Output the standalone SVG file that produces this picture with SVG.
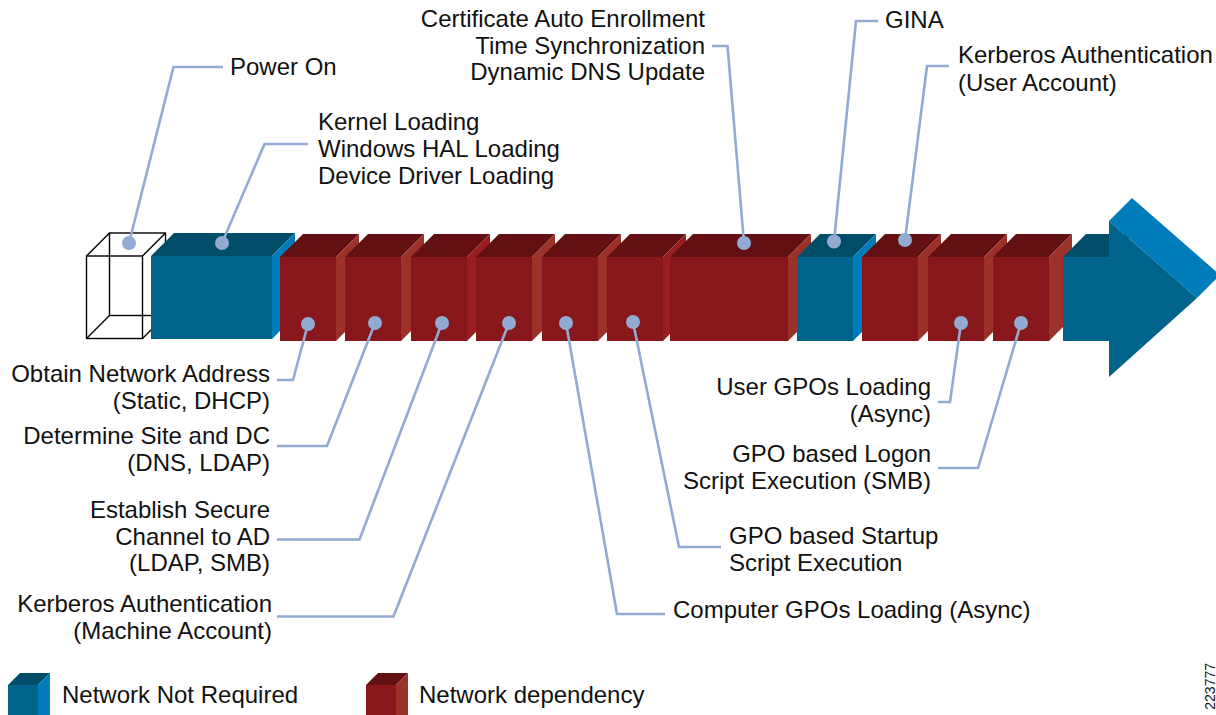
<svg xmlns="http://www.w3.org/2000/svg" width="1216" height="715" viewBox="0 0 1216 715">
  <style>
    text { font-family: "Liberation Sans", Arial, Helvetica, sans-serif; font-size: 24px; fill: #111; }
    .end { text-anchor: end; }
    .bf { fill: #00638b; }
    .bt { fill: #004d6a; }
    .bs { fill: #007cba; }
    .rf { fill: #87171a; }
    .rt { fill: #631013; }
    .rs { fill: #9c3129; }
    .rs2 { fill: #9b1c20; }
    .wire { fill: none; stroke: #000; stroke-width: 1.4; stroke-linejoin: miter; }
    .lead { fill: none; stroke: #93aad3; stroke-width: 2.6; stroke-linejoin: miter; }
    .pin { fill: #93aad3; }
    .fig { font-size: 14px; }
  </style>

  <rect width="1216" height="715" fill="#fff"/>

  <!-- Power-on stage: empty wireframe block -->
  <g id="power-on">
    <rect class="wire" x="109.5" y="233" width="56" height="82.5"/>
    <rect class="wire" x="86.5" y="256" width="56" height="82.5"/>
    <path class="wire" d="M86.5 256 L109.5 233 M142.5 256 L165.5 233 M86.5 338.5 L109.5 315.5 M142.5 338.5 L165.5 315.5"/>
  </g>

  <!-- Kernel / HAL / driver loading -->
  <g id="kernel-loading">
    <polygon class="bt" points="151,256 174,233 295,233 272,256"/>
    <polygon class="bs" points="272,256 295,233 295,316 272,339"/>
    <rect class="bf" x="151" y="256" width="121" height="83"/>
  </g>

  <g id="obtain-address">
    <polygon class="rt" points="280,257 303,234 359,234 336,257"/>
    <polygon class="rs" points="336,257 359,234 359,318 336,341"/>
    <rect class="rf" x="280" y="257" width="56" height="84"/>
  </g>

  <g id="determine-site">
    <polygon class="rt" points="345,257 368,234 424,234 401,257"/>
    <polygon class="rs" points="401,257 424,234 424,318 401,341"/>
    <rect class="rf" x="345" y="257" width="56" height="84"/>
  </g>

  <g id="secure-channel">
    <polygon class="rt" points="411,257 434,234 490,234 467,257"/>
    <polygon class="rs2" points="467,257 490,234 490,318 467,341"/>
    <rect class="rf" x="411" y="257" width="56" height="84"/>
  </g>

  <g id="kerberos-machine">
    <polygon class="rt" points="476,257 499,234 555,234 532,257"/>
    <polygon class="rs" points="532,257 555,234 555,318 532,341"/>
    <rect class="rf" x="476" y="257" width="56" height="84"/>
  </g>

  <g id="computer-gpos">
    <polygon class="rt" points="542,257 565,234 621,234 598,257"/>
    <polygon class="rs" points="598,257 621,234 621,318 598,341"/>
    <rect class="rf" x="542" y="257" width="56" height="84"/>
  </g>

  <g id="startup-script">
    <polygon class="rt" points="607,257 630,234 686,234 663,257"/>
    <polygon class="rs2" points="663,257 686,234 686,318 663,341"/>
    <rect class="rf" x="607" y="257" width="56" height="84"/>
  </g>

  <g id="cert-time-dns">
    <polygon class="rt" points="670,257 693,234 811,234 788,257"/>
    <polygon class="rs" points="788,257 811,234 811,318 788,341"/>
    <rect class="rf" x="670" y="257" width="118" height="84"/>
  </g>

  <g id="gina">
    <polygon class="bt" points="797,257 820,234 876,234 853,257"/>
    <polygon class="bs" points="853,257 876,234 876,318 853,341"/>
    <rect class="bf" x="797" y="257" width="56" height="84"/>
  </g>

  <g id="kerberos-user">
    <polygon class="rt" points="862,257 885,234 941,234 918,257"/>
    <polygon class="rs" points="918,257 941,234 941,318 918,341"/>
    <rect class="rf" x="862" y="257" width="56" height="84"/>
  </g>

  <g id="user-gpos">
    <polygon class="rt" points="928,257 951,234 1007,234 984,257"/>
    <polygon class="rs" points="984,257 1007,234 1007,318 984,341"/>
    <rect class="rf" x="928" y="257" width="56" height="84"/>
  </g>

  <g id="logon-script">
    <polygon class="rt" points="993,257 1016,234 1072,234 1049,257"/>
    <polygon class="rs" points="1049,257 1072,234 1072,318 1049,341"/>
    <rect class="rf" x="993" y="257" width="56" height="84"/>
  </g>

  <!-- Closing arrow -->
  <g id="arrow">
    <polygon class="bt" points="1063,257 1086,234 1133,234 1110,257"/>
    <polygon class="bs" points="1109,221 1132,198 1220,275 1197,298"/>
    <polygon class="bf" points="1063,257 1109,257 1109,221 1197,298 1109,377 1109,341 1063,341"/>
  </g>

  <!-- Leader lines from each stage to its caption -->
  <g id="connectors">
    <polyline class="lead" points="223,67 173.5,67 129,243"/>
    <polyline class="lead" points="308,144 264.5,144 222,243"/>
    <polyline class="lead" points="712,46 727.5,46 744,243"/>
    <polyline class="lead" points="878,21 856,21 834,241.5"/>
    <polyline class="lead" points="949,66 927,66 905,240"/>
    <polyline class="lead" points="308,324 293,380 277,380"/>
    <polyline class="lead" points="375,323 327,446 277,446"/>
    <polyline class="lead" points="442,323 359.5,539.5 277,539.5"/>
    <polyline class="lead" points="509,323 393.5,616.5 277,616.5"/>
    <polyline class="lead" points="566,323 617,614 665,614"/>
    <polyline class="lead" points="633,322 679,547 721,547"/>
    <polyline class="lead" points="961,323 950,402 938,402"/>
    <polyline class="lead" points="1021,323 978,468 938,468"/>
    <g id="pins">
      <circle class="pin" cx="129" cy="243" r="7"/>
      <circle class="pin" cx="222" cy="243" r="7"/>
      <circle class="pin" cx="744" cy="243" r="7"/>
      <circle class="pin" cx="834" cy="241.5" r="7"/>
      <circle class="pin" cx="905" cy="240" r="7"/>
      <circle class="pin" cx="308" cy="324" r="7"/>
      <circle class="pin" cx="375" cy="323" r="7"/>
      <circle class="pin" cx="442" cy="323" r="7"/>
      <circle class="pin" cx="509" cy="323" r="7"/>
      <circle class="pin" cx="566" cy="323" r="7"/>
      <circle class="pin" cx="633" cy="322" r="7"/>
      <circle class="pin" cx="961" cy="323" r="7"/>
      <circle class="pin" cx="1021" cy="323" r="7"/>
    </g>
  </g>

  <!-- Captions -->
  <g id="labels">
    <text x="230" y="75">Power On</text>
    <text x="318" y="130">Kernel Loading</text>
    <text x="318" y="157">Windows HAL Loading</text>
    <text x="318" y="184">Device Driver Loading</text>
    <text class="end" x="705" y="27">Certificate Auto Enrollment</text>
    <text class="end" x="705" y="54">Time Synchronization</text>
    <text class="end" x="705" y="80">Dynamic DNS Update</text>
    <text x="885" y="28">GINA</text>
    <text x="958" y="63">Kerberos Authentication</text>
    <text x="958" y="91">(User Account)</text>
    <text class="end" x="270" y="382">Obtain Network Address</text>
    <text class="end" x="270" y="409">(Static, DHCP)</text>
    <text class="end" x="270" y="444">Determine Site and DC</text>
    <text class="end" x="270" y="471">(DNS, LDAP)</text>
    <text class="end" x="270" y="518">Establish Secure</text>
    <text class="end" x="270" y="545">Channel to AD</text>
    <text class="end" x="270" y="571">(LDAP, SMB)</text>
    <text class="end" x="272" y="612">Kerberos Authentication</text>
    <text class="end" x="272" y="639">(Machine Account)</text>
    <text x="673" y="618">Computer GPOs Loading (Async)</text>
    <text x="729" y="544">GPO based Startup</text>
    <text x="729" y="571">Script Execution</text>
    <text class="end" x="931" y="395">User GPOs Loading</text>
    <text class="end" x="931" y="422">(Async)</text>
    <text class="end" x="931" y="462">GPO based Logon</text>
    <text class="end" x="931" y="489">Script Execution (SMB)</text>
  </g>

  <!-- Legend -->
  <g id="legend-not-required">
    <polygon class="bt" points="8,685 20,673 50,673 38,685"/>
    <polygon class="bs" points="38,685 50,673 50,715 38,715"/>
    <rect class="bf" x="8" y="685" width="30" height="30"/>
    <text x="62" y="703">Network Not Required</text>
  </g>
  <g id="legend-dependency">
    <polygon class="rt" points="366,685 378,673 408,673 396,685"/>
    <polygon class="rs" points="396,685 408,673 408,715 396,715"/>
    <rect class="rf" x="366" y="685" width="30" height="30"/>
    <text x="419" y="703">Network dependency</text>
  </g>

  <text class="fig" transform="translate(1215,663) rotate(-90)" text-anchor="end">223777</text>
</svg>
